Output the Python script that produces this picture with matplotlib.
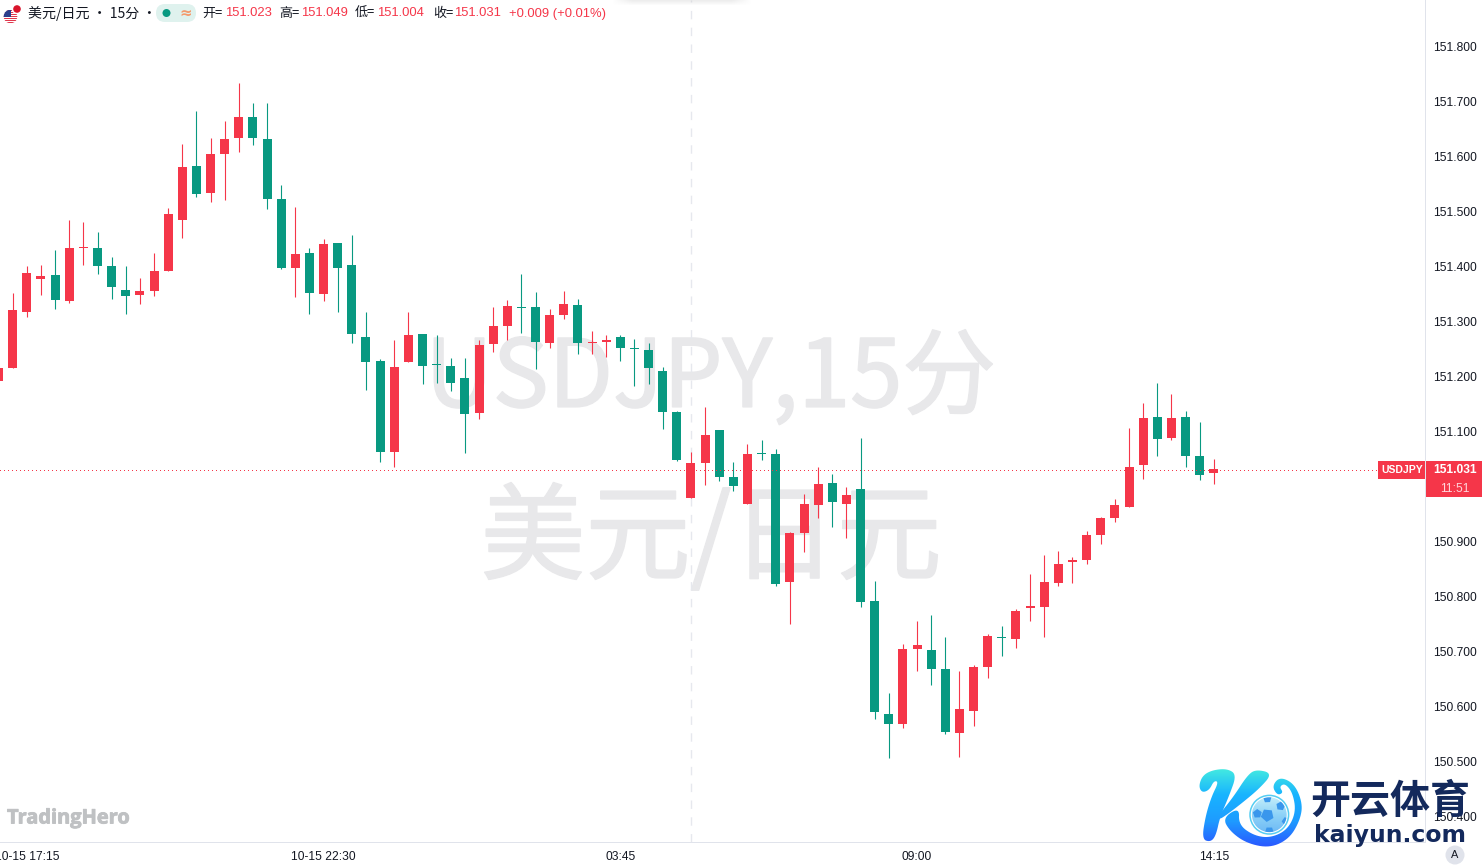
import numpy as np
import matplotlib
matplotlib.use("Agg")
import matplotlib.pyplot as plt
import matplotlib.patheffects as pe
from matplotlib.patches import Rectangle, Circle, FancyBboxPatch, PathPatch, RegularPolygon
from matplotlib.path import Path
from matplotlib.colors import LinearSegmentedColormap
from matplotlib.transforms import ScaledTranslation

# ---------- data ----------
opens = [151.191,151.215,151.316,151.376,151.384,151.336,151.433,151.433,151.400,151.356,151.347,151.355,151.391,151.484,151.582,151.533,151.604,151.633,151.671,151.631,151.522,151.396,151.424,151.349,151.442,151.402,151.271,151.227,151.062,151.225,151.276,151.222,151.218,151.196,151.133,151.258,151.291,151.325,151.325,151.260,151.311,151.329,151.260,151.262,151.271,151.251,151.247,151.209,151.135,150.978,151.042,151.102,151.016,150.967,151.060,151.058,150.825,150.914,150.965,151.005,150.967,150.994,150.791,150.585,150.567,150.704,150.702,150.667,150.551,150.591,150.671,150.725,150.722,150.778,150.780,150.824,150.862,150.865,150.911,150.942,150.962,151.038,151.125,151.087,151.125,151.054,151.023]
highs = [151.215,151.351,151.400,151.402,151.429,151.484,151.480,151.462,151.416,151.400,151.378,151.424,151.505,151.622,151.682,151.633,151.664,151.733,151.696,151.696,151.547,151.507,151.433,151.449,151.442,151.456,151.316,151.231,151.265,151.316,151.276,151.275,151.233,151.233,151.265,151.325,151.338,151.385,151.353,151.322,151.355,151.340,151.282,151.275,151.275,151.267,151.260,151.216,151.136,151.062,151.144,151.102,151.044,151.076,151.084,151.067,150.916,150.985,151.034,151.022,150.998,151.087,150.827,150.624,150.713,150.754,150.765,150.725,150.664,150.675,150.731,150.745,150.776,150.840,150.874,150.882,150.871,150.918,150.944,150.976,151.105,151.151,151.187,151.167,151.136,151.116,151.049]
lows = [151.191,151.215,151.307,151.347,151.322,151.333,151.402,151.385,151.340,151.313,151.331,151.345,151.391,151.451,151.525,151.516,151.520,151.607,151.620,151.503,151.395,151.344,151.313,151.336,151.316,151.260,151.174,151.044,151.034,151.225,151.185,151.187,151.173,151.060,151.122,151.244,151.265,151.278,151.213,151.251,151.304,151.240,151.240,151.234,151.227,151.182,151.185,151.104,151.045,150.978,151.002,151.009,150.991,150.967,151.047,150.818,150.749,150.880,150.942,150.925,150.905,150.780,150.576,150.505,150.560,150.664,150.638,150.549,150.507,150.564,150.651,150.691,150.705,150.754,150.725,150.818,150.824,150.858,150.894,150.935,150.962,151.013,151.054,151.084,151.034,151.011,151.004]
closes = [151.215,151.320,151.387,151.382,151.338,151.433,151.434,151.400,151.362,151.345,151.355,151.391,151.494,151.580,151.531,151.604,151.631,151.671,151.633,151.522,151.396,151.422,151.351,151.440,151.396,151.276,151.225,151.062,151.216,151.275,151.218,151.220,151.187,151.131,151.256,151.291,151.327,151.324,151.262,151.311,151.331,151.260,151.262,151.265,151.251,151.249,151.215,151.135,151.047,151.042,151.093,151.016,151.000,151.058,151.058,150.822,150.914,150.967,151.004,150.971,150.984,150.789,150.589,150.567,150.704,150.711,150.667,150.553,150.595,150.671,150.727,150.724,150.773,150.782,150.825,150.858,150.865,150.911,150.942,150.965,151.034,151.124,151.085,151.124,151.054,151.020,151.031]

price_ticks = [151.8, 151.7, 151.6, 151.5, 151.4, 151.3, 151.2, 151.1, 151.0, 150.9, 150.8, 150.7, 150.6, 150.5, 150.4]
time_tick_bars = [2, 23, 44, 65, 86]
time_tick_labels = ["10-15 17:15", "10-15 22:30", "03:45", "09:00", "14:15"]
session_break_bar = 49
last_price = 151.031
header_fields = [("开=", "151.023"), ("高=", "151.049"), ("低=", "151.004"), ("收=", "151.031")]
change_text = "+0.009 (+0.01%)"

# ---------- styles ----------
RED = "#F53649"
GREEN = "#089981"
LINE = "#E0E3EB"
INK = "#131722"
WM = "#E8E8EA"
NAVY = "#13295C"
CJK = ["Noto Sans CJK SC", "DejaVu Sans"]
LAT = ["Liberation Sans", "DejaVu Sans"]
PX = 0.72  # points per pixel at dpi 100

plt.rcParams["font.family"] = CJK
W, H = 1482, 868
fig = plt.figure(figsize=(W / 100, H / 100), dpi=100, facecolor="white")
ax = fig.add_axes([0, (H - 842) / H, 1425 / W, 842 / H])

bars = np.arange(len(closes))
o, hi, lo, c = map(np.array, (opens, highs, lows, closes))
cols = [RED if cc >= oo else GREEN for oo, cc in zip(o, c)]
ax.vlines(bars, lo, hi, colors=cols, linewidth=1.1 * PX, zorder=3)
ax.bar(bars, np.abs(c - o), bottom=np.minimum(o, c), width=9 / 14.13, color=cols, linewidth=0, zorder=4)

ax.set_xlim(1.4 / 14.13, 1426.4 / 14.13)
ax.set_ylim(151.8836 - 842 / 550, 151.8836)
ax.axvline(session_break_bar, color="#E6E8EE", linewidth=1.4 * PX, linestyle=(0, (6, 6)), zorder=1)
ax.plot([ax.get_xlim()[0], (1378 + 1.4) / 14.13], [last_price - 0.0012, last_price - 0.0012], color=RED,
        linewidth=1 * PX, linestyle=(0, (1, 3)), zorder=5, antialiased=False)

stroke = [pe.withStroke(linewidth=1.2, foreground=WM)]
ax.text(710.5 / 1425, 1 - 380 / 842, "USDJPY,15分", transform=ax.transAxes, ha="center", va="center",
        fontsize=93.7 * PX, color=WM, zorder=0, path_effects=stroke)
ax.text(711 / 1425, 1 - 541 / 842, "美元/日元", transform=ax.transAxes, ha="center", va="center",
        fontsize=105 * PX, color=WM, zorder=0, path_effects=stroke)

ax.yaxis.tick_right()
ax.set_yticks(price_ticks)
ax.set_yticklabels([f"{p:.3f}" for p in price_ticks], fontsize=12 * PX, color=INK, family=LAT)
ax.set_xticks(time_tick_bars)
ax.set_xticklabels(time_tick_labels, fontsize=12 * PX, color=INK, family=LAT)
ax.tick_params(axis="y", length=0, pad=8 * PX)
ax.tick_params(axis="x", length=0, pad=8.5 * PX)
for lab in ax.get_yticklabels():
    lab.set_transform(lab.get_transform() + ScaledTranslation(0, -1 / 100, fig.dpi_scale_trans))
for s in ("left", "top"):
    ax.spines[s].set_visible(False)
for s in ("right", "bottom"):
    ax.spines[s].set_color(LINE)
    ax.spines[s].set_linewidth(1 * PX)

# ---------- overlay in screen pixels: header, badges, logo ----------
ov = fig.add_axes([0, 0, 1, 1], zorder=10)
ov.set_axis_off()
ov.patch.set_visible(False)

# price badges
ov.add_patch(Rectangle((1378, 461), 47, 18, color=RED, lw=0))
ov.add_patch(Rectangle((1426, 461), 56, 36, color=RED, lw=0))
ov.text(1402, 470, "USDJPY", color="white", fontsize=10.4 * PX, ha="center", va="center", family=LAT, weight="bold")
ov.text(1455, 470, f"{last_price:.3f}", color="white", fontsize=12 * PX, ha="center", va="center", family=LAT, weight="bold")
ov.text(1455, 488.5, "11:51", color="#FFD5DA", fontsize=12 * PX, ha="center", va="center", family=LAT)

# auto-scale button
ov.add_patch(Circle((1455, 855), 9.5, color=LINE, lw=0))
ov.text(1455, 855.5, "A", color=INK, fontsize=11 * PX, ha="center", va="center", family=LAT)

# header
fg = Circle((10.5, 16.5), 6.8, transform=ov.transData, fc="white", ec="none")
ov.add_patch(fg)
for k, yy in enumerate(np.arange(10, 23.5, 2)):
    r = Rectangle((3, yy), 16, 1, color="#E0364C", lw=0)
    ov.add_patch(r)
    r.set_clip_path(fg)
can = Rectangle((3, 9.5), 8, 7, color="#2B3F8C", lw=0)
ov.add_patch(can)
can.set_clip_path(fg)
ov.add_patch(Circle((17, 9), 5.2, fc="white", ec="none"))
ov.add_patch(Circle((17, 9), 3.8, fc="#D9142B", ec="none"))

ov.text(28, 13.5, "美元/日元 • 15分 •", fontsize=14 * PX, color=INK, ha="left", va="center", family=CJK)
ov.add_patch(FancyBboxPatch((156, 4), 40, 18, boxstyle="round,pad=0,rounding_size=9", fc="#DFF2EE", ec="none", lw=0))
ov.add_patch(Circle((166.5, 13), 4, fc=GREEN, ec="none"))
ov.text(186, 13, "≈", fontsize=15 * PX, color="#F49A6C", ha="center", va="center", family=["DejaVu Sans"], weight="bold")

label_x = [202, 279, 355, 433]
value_x = [225, 301, 377, 454]
for (lab, val), lx, vx in zip(header_fields, label_x, value_x):
    ov.text(lx, 13.5, lab, fontsize=13 * PX, color=INK, ha="left", va="center", family=CJK)
    ov.text(vx, 13.5, val, fontsize=13 * PX, color=RED, ha="left", va="center", family=LAT)
ov.text(509, 13.5, change_text, fontsize=13 * PX, color=RED, ha="left", va="center", family=LAT)

# top shadow
sh = np.zeros((6, 140, 4))
sh[..., :3] = 0.75
xf = np.clip(np.minimum(np.arange(140), 139 - np.arange(140)) / 20, 0, 1)
sh[..., 3] = (np.linspace(0.28, 0, 6)[:, None] * xf[None, :])
ov.imshow(sh, extent=(612, 752, 6, 0), aspect="auto", interpolation="bilinear", zorder=0)

# TradingHero mark
ov.text(7, 818.5, "TradingHero", fontsize=20 * PX, color="#BFC1C3", ha="left", va="center", family=["Open Sans"], weight="bold",
        path_effects=[pe.withStroke(linewidth=0.6, foreground="#BFC1C3")])


# kaiyun logo
def z(pts):
    a = np.array(pts, float)
    return np.c_[1190 + a[:, 0] / 3, 762 + a[:, 1] / 3]


def smooth(pts, n=3):
    p = z(pts)
    for _ in range(n):
        q = np.roll(p, -1, axis=0)
        p = np.c_[0.75 * p + 0.25 * q, 0.25 * p + 0.75 * q].reshape(-1, 2)
    return Path(np.vstack([p, p[:1]]), closed=True)


stem = [(26, 72), (38, 40), (68, 24), (112, 20), (140, 38), (118, 100), (90, 165), (78, 220), (62, 240), (36, 232),
        (46, 165), (64, 105), (86, 60), (72, 56), (58, 84), (36, 92)]
arm = [(84, 162), (130, 105), (172, 40), (198, 22), (248, 34), (208, 80), (150, 128), (105, 162), (88, 172)]
swoosh = [(98, 168), (148, 136), (146, 188), (190, 220), (240, 228), (292, 204), (318, 150), (308, 92), (285, 64),
          (268, 74), (280, 92), (262, 100), (246, 72), (270, 44), (314, 66), (338, 125), (330, 175), (298, 230),
          (240, 258), (170, 244), (120, 208)]
cm = LinearSegmentedColormap.from_list("k", ["#44EBE0", "#18B4FF", "#1E9BFF", "#2A55FF"])
grad = np.linspace(0, 1, 200)[:, None]
for shape in (stem, arm, swoosh):
    patch = PathPatch(smooth(shape), fc="none", ec="none")
    ov.add_patch(patch)
    im = ov.imshow(grad, cmap=cm, extent=(1195, 1305, 848, 768), aspect="auto", zorder=2)
    im.set_clip_path(patch)

ball = Circle((1269.3, 814.7), 19.3, fc="white", ec="#55CDF2", lw=1.1, zorder=3)
ov.add_patch(ball)
inner = Circle((1269.3, 814.7), 17.4, fc="none", ec="none", zorder=3)
ov.add_patch(inner)
bcm = LinearSegmentedColormap.from_list("b", ["#C6EEFA", "#8DD2F8", "#6CB8F4"])
im = ov.imshow(grad, cmap=bcm, extent=(1250, 1289, 834, 796), aspect="auto", zorder=3)
im.set_clip_path(inner)
for cx, cy, rr, ang in [(232, 160, 20, 0.1), (202, 155, 14, 0.6), (272, 132, 14, -0.5), (288, 178, 13, 0.3),
                        (238, 208, 14, 0.0), (232, 110, 13, 3.1)]:
    xy = z([(cx, cy)])[0]
    pg = RegularPolygon(xy, 5, radius=rr / 3, orientation=ang, fc="#3A97EC", ec="none", zorder=4)
    ov.add_patch(pg)
    pg.set_clip_path(inner)

ov.text(1390, 801, "开云体育", fontsize=40 * PX, color=NAVY, ha="center", va="center", family=CJK, weight="bold", zorder=5)
ov.text(1390.5, 835.5, "kaiyun.com", fontsize=23.5 * PX, color=NAVY, ha="center", va="center", family=["DejaVu Sans"], weight="bold", zorder=5)

ov.set_xlim(0, W)
ov.set_ylim(H, 0)

fig.savefig("out.png", dpi=100, facecolor="white")
